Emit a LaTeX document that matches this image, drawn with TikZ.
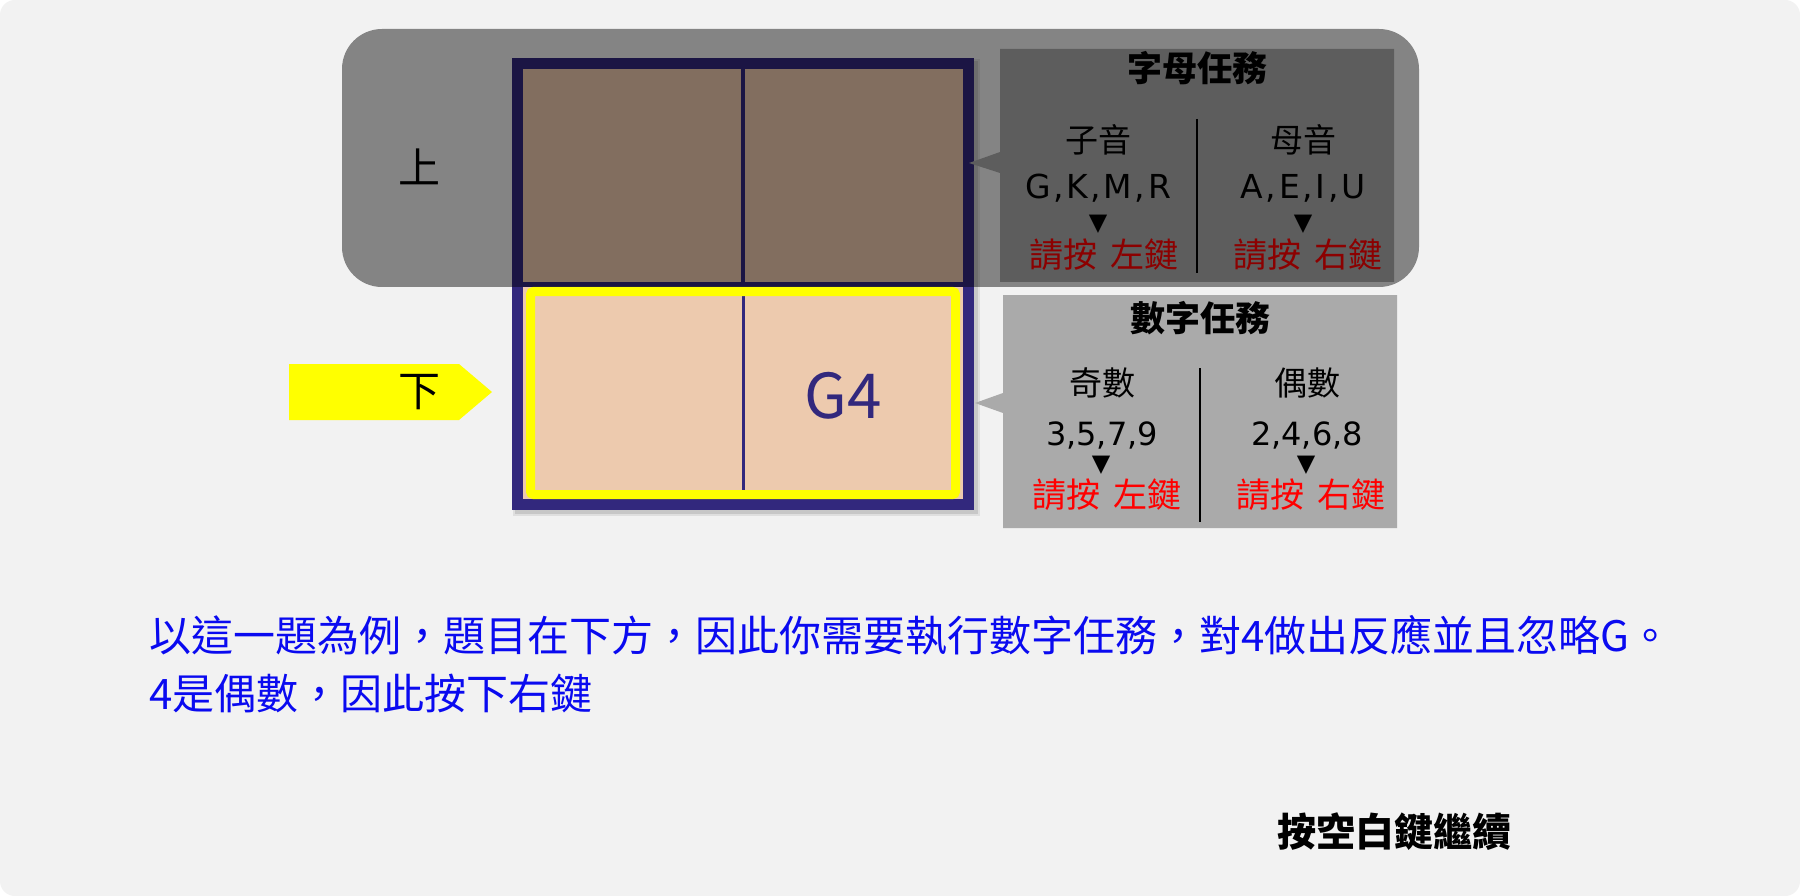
\documentclass[tikz,border=0pt]{standalone}
\usepackage{fontspec}
\setmainfont{Noto Sans CJK TC}
\newfontfamily\latinfont{DejaVu Sans}
\newfontfamily\latinwide[LetterSpace=8]{DejaVu Sans}
\definecolor{bgcol}{HTML}{F2F2F2}
\definecolor{indigo}{HTML}{32287D}
\definecolor{peach}{HTML}{EDCAAE}
\definecolor{boxgray}{HTML}{AAAAAA}
\definecolor{txtblue}{HTML}{0A0AF0}
\definecolor{keyred}{HTML}{FF0000}
\definecolor{hiyellow}{HTML}{FFFF00}
\tikzset{
  lbl/.style={inner sep=0pt, font=\fontsize{33}{40}\selectfont},
  ttl/.style={inner sep=0pt, font=\bfseries\fontsize{35}{42}\selectfont},
  lat/.style={inner sep=0pt, font=\latinfont\fontsize{32}{38}\selectfont},
  latw/.style={inner sep=0pt, font=\latinwide\fontsize{33}{38}\selectfont},
  tri/.style={inner sep=0pt, font=\latinfont\fontsize{24}{28}\selectfont},
  keytxt/.style={inner sep=0pt, text=keyred, font=\fontsize{34}{40}\selectfont},
  side/.style={inner sep=0pt, font=\fontsize{42}{50}\selectfont},
  sep/.style={line width=2.5pt, black},
  callout/.style={fill=boxgray},
}
\newcommand{\keygap}{\hspace{0.4em}}
\begin{document}
\begin{tikzpicture}[x=1pt,y=-1pt]
\useasboundingbox (0,0) rectangle (1800,896);
% background panel
\fill[white] (0,0) rectangle (1800,896);
\fill[bgcol, rounded corners=15pt] (0,0) rectangle (1800,896);

% grid shadow
\fill[black, opacity=0.10] (515,61) rectangle (978,514);
\fill[black, opacity=0.08] (513,59) rectangle (980,516);
% grid
\fill[indigo] (512,58) rectangle (974,510);
\fill[peach] (523,69) rectangle (741,282);
\fill[peach] (745,69) rectangle (963,282);
\fill[peach] (523,287) rectangle (963,499);
\draw[indigo, line width=3pt] (743,287) -- (743,499);
\draw[hiyellow, line width=9pt, rounded corners=3pt] (530.5,291.5) rectangle (955.5,494.5);
\node[inner sep=0pt, text=indigo, font=\fontsize{62}{70}\selectfont] (g4) at (843,396) {G4};

% letter task box
\fill[callout] (1000,49) -- (1394,49) -- (1394,282) -- (1000,282) -- (1000,173) -- (969,163) -- (1000,152) -- cycle;
\node[ttl] (lt) at (1197,68) {字母任務};
\coordinate (ls1) at (1197,119);
\coordinate (ls2) at (1197,273);
\draw[sep] (ls1) -- (ls2);
\node[lbl] (cons) at (1098,140) {子音};
\node[latw] (consl) at (1098,188) {G,K,M,R};
\node[tri] (constri) at (1098,224) {▼};
\node[keytxt] (conskey) at (1104,255) {請按\keygap 左鍵};
\node[lbl] (vow) at (1303,140) {母音};
\node[latw] (vowl) at (1303,188) {A,E,I,U};
\node[tri] (vowtri) at (1303,224) {▼};
\node[keytxt] (vowkey) at (1308,255) {請按\keygap 右鍵};

% number task box
\fill[callout] (1003,295) -- (1397,295) -- (1397,528) -- (1003,528) -- (1003,413) -- (975,403) -- (1003,393) -- cycle;
\node[ttl] (nt) at (1200,318) {數字任務};
\coordinate (ns1) at (1200,368);
\coordinate (ns2) at (1200,522);
\draw[sep] (ns1) -- (ns2);
\node[lbl] (odd) at (1102,383) {奇數};
\node[lat] (oddl) at (1102,435) {3,5,7,9};
\node[tri] (oddtri) at (1101,465) {▼};
\node[keytxt] (oddkey) at (1107,495) {請按\keygap 左鍵};
\node[lbl] (even) at (1307,383) {偶數};
\node[lat] (evenl) at (1307,435) {2,4,6,8};
\node[tri] (eventri) at (1306,465) {▼};
\node[keytxt] (evenkey) at (1311,495) {請按\keygap 右鍵};

% dark overlay on the upper half
\fill[black, opacity=0.45, rounded corners=40pt] (342,29) rectangle (1419,287);
\node[side] (up) at (419,167) {上};

% yellow arrow with 下
\fill[hiyellow] (289,364) -- (459,364) -- (492,392) -- (459,420) -- (289,420) -- cycle;
\node[side] (down) at (419,392) {下};

% instructions
\node[inner sep=0pt, anchor=west, text=txtblue, font=\fontsize{42}{50}\selectfont] (line1) at (149,635) {以這一題為例，題目在下方，因此你需要執行數字任務，對4做出反應並且忽略G。};
\node[inner sep=0pt, anchor=west, text=txtblue, font=\fontsize{42}{50}\selectfont] (line2) at (149,693) {4是偶數，因此按下右鍵};
\node[inner sep=0pt, font=\bfseries\fontsize{39}{46}\selectfont] (cont) at (1394,832) {按空白鍵繼續};
\end{tikzpicture}
\end{document}
